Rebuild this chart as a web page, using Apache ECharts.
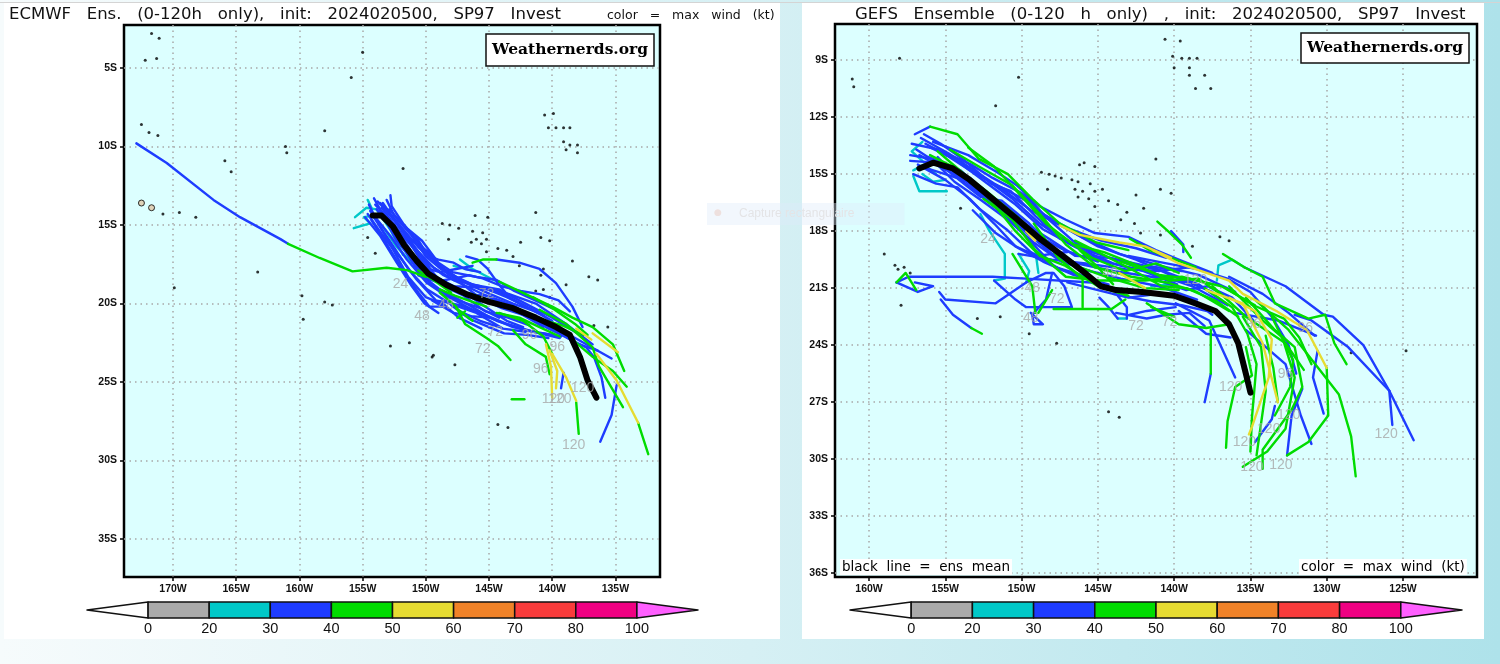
<!DOCTYPE html>
<html>
<head>
<meta charset="utf-8">
<script src="https://cdn.jsdelivr.net/npm/echarts@6/dist/echarts.min.js"></script>
<style>
  html, body { margin: 0; height: 100%; overflow: hidden; background: linear-gradient(90deg, #f6fbfc 0%, #d6f0f4 50%, #aee2ea 100%); }
  .panel { position: absolute; top: 3px; height: 636px; background: #fff; }
  #topline { position: absolute; left: 0; right: 0; top: 2px; height: 1px; background: #d4d4d4; }
  #chart { position: absolute; left: 0; top: 0; width: 1500px; height: 664px; }
</style>
</head>
<body>
<div class="panel" style="left:4px;width:776px"></div>
<div class="panel" style="left:802px;width:682px"></div>
<div id="topline"></div>
<div id="chart"></div>
<script>
const ecLonTicks = [-170, -165, -160, -155, -150, -145, -140, -135]
const ecLatTicks = [-5, -10, -15, -20, -25, -30, -35]
const gfLonTicks = [-160, -155, -150, -145, -140, -135, -130, -125]
const gfLatTicks = [-9, -12, -15, -18, -21, -24, -27, -30, -33, -36]
const barTicks = ['0', '20', '30', '40', '50', '60', '70', '80', '100']
const barColors = ['#ffffff', '#aaaaaa', '#00c8c8', '#1e3cff', '#00dc00', '#e6dc32', '#f08228', '#fa3c3c', '#f00082', '#ff5fff']

const ecMean = [[-154.2,-14.4],[-153.5,-14.4],[-152.6,-15.1],[-151.7,-16.3],[-150.7,-17.3],[-149.8,-18.1],[-148.4,-18.8],[-146.8,-19.4],[-145,-19.9],[-143.1,-20.3],[-141.3,-20.9],[-139.7,-21.5],[-138.6,-22],[-137.8,-23.4],[-137.2,-24.9],[-136.5,-26]]
const ecCyan = [
  [[-155.6,-14.5],[-154.7,-13.9],[-153.9,-14],[-152.8,-15.3],[-151.8,-16.9]],
  [[-155.7,-15.2],[-154.4,-14.9],[-154.9,-14.5],[-153.4,-14.3]],
  [[-154.6,-13.4],[-154.3,-13.9]],
  [[-147.3,-17.2],[-146.3,-17.8],[-144.4,-18.6]],
  [[-147.8,-17.6],[-146.3,-17.9]],
  [[-153.4,-15.1],[-152.3,-16.4],[-151.1,-17.4]]
]
const ecBlue = [
  [[-172.9,-9.8],[-170.5,-11.05],[-166.8,-13.4],[-164.7,-14.5],[-161.5,-15.9],[-160.9,-16.2]],
  [[-152.8,-13.1],[-152.7,-13.8],[-151.8,-14.9],[-150.5,-16.2],[-149.4,-17.2],[-148.4,-17.9],[-146.8,-18.7],[-144.9,-19.4],[-143.1,-20],[-141,-20.6]],
  [[-153.6,-13.6],[-152.3,-14.8],[-151.1,-16],[-149.8,-16.7],[-149,-17.6],[-147.6,-18.3],[-146,-18.9],[-143.9,-19.4],[-142.1,-20.2],[-140,-21.1]],
  [[-154.8,-14.5],[-153.6,-15.7],[-152.3,-17.4],[-151.1,-18.9],[-150.1,-20],[-149,-20.6]],
  [[-154.3,-14.7],[-153.1,-16.2],[-151.8,-17.9],[-150.5,-19.4],[-149.7,-20.2],[-148.8,-20.2]],
  [[-153.9,-14],[-152.6,-15.3],[-151.5,-16.8],[-150.5,-18.1],[-148.9,-19.1],[-146.8,-20],[-144.9,-20.9],[-143.1,-21.5],[-141,-21.9],[-139.4,-22.2]],
  [[-153.4,-13.6],[-152.1,-15.1],[-150.7,-16.6],[-149.4,-17.7],[-147.8,-18.5],[-145.7,-18.9],[-143.6,-19.6],[-141,-20.6],[-138.4,-22.1],[-135.3,-23.5]],
  [[-154.4,-14.1],[-152.8,-15.7],[-151.5,-17.2],[-149.9,-18.7],[-148.4,-19.5],[-146.3,-20.4],[-144.4,-21.1],[-142.1,-21.7],[-140,-22]],
  [[-154,-13.7],[-152.4,-15.1],[-150.9,-17],[-149.3,-18.3],[-147.3,-19.1],[-145.5,-20.1],[-143.6,-21.1],[-142.3,-21.5]],
  [[-153.1,-14],[-151.7,-15.6],[-150.5,-17.1],[-148.9,-18.5],[-147.1,-19.4],[-145.2,-19.5],[-143.1,-20.1],[-140.5,-21.5],[-137.3,-22.8],[-136.7,-23.4],[-136.1,-24.7],[-135.8,-26]],
  [[-150.2,-17.7],[-148.9,-18],[-147.6,-17.8],[-146.3,-17.6]],
  [[-144.4,-17.2],[-142.6,-17.4],[-141,-17.8],[-139.7,-18.7],[-138.4,-20.2],[-137.6,-21.5]],
  [[-146.8,-17],[-145.9,-17.2],[-145.1,-17.8],[-144.3,-18.7],[-143.4,-19.6],[-142.1,-20.2]],
  [[-153.4,-13.8],[-151.9,-15.3],[-150.5,-16.8],[-149.2,-18.3],[-147.8,-18.9],[-145.2,-19],[-143.4,-19.4],[-141.3,-20],[-138.9,-21.3],[-136.8,-22.6]],
  [[-154.6,-14.3],[-153.2,-15.9],[-151.9,-17.2],[-150.7,-18.5],[-149.2,-19.8],[-147.3,-20.1],[-145.7,-20.6],[-143.6,-21.3],[-141.5,-21.8]],
  [[-153.6,-14.1],[-152.3,-16],[-150.9,-17.4],[-149.7,-18.7],[-147.8,-19.7],[-145.7,-20.3],[-144.2,-20.9]],
  [[-139.3,-25.4],[-139.1,-24.4]],
  [[-136.2,-28.8],[-135.3,-27.1],[-134.9,-25.2]],
  [[-140.7,-21.9],[-139.3,-22.1]],
  [[-153.8,-13.5],[-152.2,-14.9],[-150.6,-16.4],[-149.6,-17.1],[-148.1,-18.2],[-146.3,-18.8],[-144.2,-19.1],[-142.6,-19.8],[-140,-20.9],[-137.6,-22.1]],
  [[-154.2,-14.4],[-152.7,-16.2],[-151.3,-17.9],[-149.9,-19.1],[-148.1,-20],[-146,-20.6],[-143.9,-21.6],[-142.1,-21.8]],
  [[-153.5,-13.9],[-151.8,-15.7],[-150.2,-17.2],[-148.6,-18.2],[-146.8,-18.9],[-144.7,-19.7],[-142.8,-20.5],[-140.7,-21.5]],
  [[-147.3,-20.5],[-145.7,-21.1],[-144.2,-21.5]],
  [[-154.1,-13.3],[-153.2,-14.6],[-152.2,-15.9],[-151,-17.2],[-149.6,-18.1],[-148.6,-18.9],[-147,-19.5],[-145.3,-20.5],[-143.5,-20.9],[-141.8,-21.4]],
  [[-153.1,-13.4],[-152.5,-14.4],[-151.2,-15.6],[-150,-17],[-148.8,-17.8],[-147.2,-18.7],[-145.8,-19.6],[-144,-20.3],[-142,-20.8],[-140.2,-21.6],[-138.8,-22.1]],
  [[-154.5,-13.7],[-153.7,-15],[-152.5,-16.7],[-151.4,-18.3],[-150,-19.6],[-148.5,-20.1],[-147.4,-20.9],[-145.6,-21.6]],
  [[-152.9,-14],[-151.5,-15.2],[-150.3,-16],[-149,-17.4],[-147.9,-18],[-146,-18.3],[-144.4,-18.5],[-143,-19.2],[-141.6,-19.7],[-140,-20.3]],
  [[-147.6,-19.1],[-146,-19.5],[-144.5,-19.9],[-143,-20.5],[-141.2,-21],[-139.5,-21.8],[-138.2,-22.5],[-136.4,-23]],
  [[-148,-20.1],[-146.5,-21],[-145,-21.5],[-143.8,-21.9],[-142,-22],[-140.3,-22.2]],
  [[-149.5,-19.8],[-147.8,-20.6],[-146.4,-20.8],[-145,-20.9]],
  [[-150.6,-18.2],[-149.2,-18.6],[-147.7,-18.4],[-146.6,-18.2],[-145.5,-18.4],[-144,-18.9],[-142.5,-19.2],[-141,-19.4],[-139.5,-19.8],[-138.6,-20.5]],
  [[-150.8,-15.7],[-149.8,-17],[-149,-17.2],[-147.8,-17.4],[-146.9,-17.8],[-145.7,-18]]
]
const ecGreen = [
  [[-160.9,-16.2],[-158.4,-17.1],[-155.8,-17.95],[-153.1,-17.72],[-151.5,-17.87],[-150,-18.3]],
  [[-148.9,-19.3],[-147.6,-20.2],[-146.9,-21.3],[-145.2,-22.2],[-144.3,-22.7],[-143.3,-23.6]],
  [[-143.1,-21.7],[-142.1,-22.6],[-140.5,-23.4],[-140.2,-24.5]],
  [[-146.3,-17.4],[-145.5,-17.2],[-144.4,-17.2]],
  [[-144.2,-18.6],[-142.1,-19.4],[-140,-20.2],[-138.4,-20.9],[-136.8,-21.5],[-135.2,-22.6],[-134.3,-24.3]],
  [[-141,-20.4],[-138.9,-21.3],[-136.8,-22.8],[-136.3,-24],[-134.4,-26.6]],
  [[-138.4,-22.3],[-136.8,-23.4],[-135.2,-24.3],[-134.1,-25.3]],
  [[-138.1,-26.3],[-137.9,-28.3]],
  [[-133.2,-27.6],[-132.4,-29.6]],
  [[-143.2,-26.1],[-142.2,-26.1]],
  [[-144.2,-20.6],[-142.3,-21.1],[-140.7,-22.1],[-140,-23.2]],
  [[-147.6,-20.3],[-146.3,-21.1]],
  [[-147.5,-20.9],[-146.9,-20.5]],
  [[-148.9,-19.1],[-147.7,-19.5],[-146.3,-19.9],[-145.2,-20.2]],
  [[-144.4,-20.6],[-142.6,-20.9],[-141,-21.5],[-139.4,-22.1]],
  [[-150.6,-17.9],[-149.4,-18.5],[-148,-19.3]],
  [[-146.4,-19.4],[-144.6,-19.9],[-142.8,-20.3],[-141,-21],[-139.2,-21.4],[-137.5,-22]],
  [[-141.5,-19.6],[-139.8,-20.4],[-138.2,-21.3],[-137.2,-22]]
]
const ecYellow = [
  [[-140.5,-22.6],[-140.1,-24],[-140,-26]],
  [[-140.2,-23],[-139.6,-24.3],[-139.7,-25.4]],
  [[-140,-23.2],[-138.9,-24.7],[-138.1,-26.2]],
  [[-138.1,-21.6],[-136.9,-22.3]],
  [[-136.8,-21.9],[-134.8,-23.1]],
  [[-136.5,-23.2],[-134.9,-24.9],[-133.2,-27.6]]
]
const ecHours = [[-152,-18.76,'24'],[-150.3,-20.8,'48'],[-148.4,-20.1,'48'],[-144.5,-21.8,'72'],[-145.5,-22.9,'72'],[-145.2,-19.4,'72'],[-139.6,-22.8,'96'],[-140.9,-24.2,'96'],[-141.8,-22,'96'],[-137.6,-25.4,'120'],[-139.9,-26.1,'120'],[-139.4,-26.1,'120'],[-138.3,-29,'120']]
const ecIslands = [[-146.1,-14.4],[-145.1,-14.5],[-148.7,-14.9],[-148.1,-15],[-147.4,-15.2],[-146.3,-15.4],[-145.5,-15.5],[-148.2,-15.9],[-146.4,-16.1],[-146,-15.9],[-145.2,-15.9],[-145.6,-16.2],[-145.2,-16.7],[-144.3,-16.5],[-143.6,-16.6],[-142.5,-16.1],[-140.9,-15.8],[-140.2,-16],[-141.3,-14.2],[-143.1,-17],[-142.6,-17.6],[-140.7,-17.8],[-140.9,-18.2],[-138.4,-17.3],[-137.1,-18.3],[-136.4,-18.5],[-138.9,-18.8],[-141.3,-19.2],[-140.7,-19.1],[-140.2,-19.6],[-136.7,-21.4],[-135.6,-21.5],[-152.8,-22.7],[-151.3,-22.5],[-149.5,-23.4],[-147.7,-23.9],[-144.3,-27.7],[-143.5,-27.9],[-154.6,-15.8],[-154,-16.8],[-140.6,-8],[-139.9,-7.9],[-140.3,-8.8],[-139.7,-8.8],[-139.1,-8.8],[-138.6,-8.8],[-139.1,-9.7],[-138.6,-9.9],[-138,-9.9],[-138.9,-10.2],[-138,-10.4],[-171.7,-2.8],[-171.1,-3.1],[-172.2,-4.5],[-171.3,-4.4],[-172.5,-8.6],[-171.9,-9.1],[-171.2,-9.3],[-155,-4],[-155.9,-5.6],[-158,-9],[-161.1,-10],[-161,-10.4],[-165.9,-10.9],[-165.4,-11.6],[-170.8,-14.3],[-169.5,-14.2],[-168.2,-14.5],[-169.9,-19],[-163.3,-18],[-159.7,-21],[-159.8,-19.5],[-158,-19.9],[-157.4,-20.1],[-151.8,-11.4],[-149.4,-23.3]]
const ecBigIslands = [[-172.5,-13.6],[-171.7,-13.9]]

const gfMean = [[-156.7,-14.7],[-155.8,-14.4],[-154.5,-14.7],[-153.4,-15.3],[-151.9,-16.3],[-150.4,-17.3],[-148.8,-18.4],[-147.3,-19.3],[-146,-20.1],[-144.8,-20.9],[-143.8,-21.1],[-142.1,-21.2],[-140,-21.4],[-138.6,-21.8],[-137.3,-22.2],[-136.4,-22.9],[-135.8,-23.9],[-135.3,-25.5],[-135,-26.5]]
const gfCyan = [
  [[-156.5,-13.3],[-157.2,-13.8],[-156.5,-14.3]],
  [[-157.1,-15.1],[-156.7,-15.9],[-154.9,-15.9]],
  [[-156.5,-15],[-155.8,-15.4],[-155,-15.3]],
  [[-157.1,-14.8],[-156.4,-14.5],[-155.6,-15]],
  [[-152.7,-17.1],[-152.1,-18],[-151.1,-19.2],[-151.1,-20.5],[-151.8,-20.6]],
  [[-149.7,-20.7],[-149.5,-20.1],[-150.2,-19.2]],
  [[-149.1,-19],[-148.9,-20.2]],
  [[-143.7,-22.6],[-143.1,-22.6]],
  [[-137.2,-20.6],[-137.1,-19.8],[-136.2,-19.5],[-135.4,-19.9]],
  [[-141.5,-20.9],[-140.2,-20.8],[-140,-20.7]]
]
const gfBlue = [
  [[-157,-12.9],[-156,-12.5]],
  [[-157.2,-13.4],[-155.5,-13.7],[-153.4,-14.8],[-151.4,-15.7],[-149.4,-16.9],[-147.2,-17.8],[-145,-18.8],[-142.5,-19.5],[-140,-20.4],[-137.5,-21.2]],
  [[-156.6,-13.1],[-154.8,-13.9],[-152.8,-15],[-150.6,-16.3],[-148.8,-17.6],[-146.8,-18.7],[-144.6,-19.6],[-142,-20.1],[-139.8,-20.8]],
  [[-157.3,-14.3],[-155.5,-14.4],[-153.6,-15.4],[-151.6,-16.7],[-149.8,-18],[-148,-19.2],[-146,-20],[-143.5,-20.5],[-141,-20.9],[-138.5,-21.6]],
  [[-157.1,-15],[-155.6,-15.5],[-154.2,-15.7],[-152.8,-16.8],[-151,-17.9],[-149.4,-19.1],[-147.5,-20],[-145.2,-20.6]],
  [[-156.3,-13.4],[-154.4,-14.2],[-152.4,-15.4],[-150.4,-16.6],[-148.6,-17.9],[-146.3,-18.9],[-144,-19.7],[-141.4,-20.2],[-138.8,-20.9],[-136.5,-21.9]],
  [[-156.7,-14],[-154.9,-14.8],[-153,-15.9],[-151.2,-17.1],[-149.7,-18.3],[-147.8,-19.9],[-145.7,-20.4]],
  [[-156,-13.6],[-153.9,-14.4],[-151.8,-15.5],[-149.9,-16.3],[-148.4,-17.2],[-146.1,-18.3],[-143.6,-19.2],[-141,-19.8],[-138.4,-20.3],[-136,-21.2]],
  [[-156.8,-14.5],[-155,-15.3],[-153.4,-16.3],[-151.8,-17.6],[-150.4,-18.8],[-149,-19.3],[-147,-19.1]],
  [[-156.1,-14.1],[-154,-14.8],[-152.2,-16.1],[-150.2,-17.6],[-148.3,-18.9],[-146.4,-19.7],[-144,-20.1],[-141.5,-20.4],[-139,-20.7]],
  [[-155.8,-13.3],[-153.5,-14],[-151.6,-14.9],[-150.3,-15.6],[-148.8,-16.7],[-147.1,-17.4],[-145.2,-18.1],[-143,-18.3],[-141.2,-19],[-139.7,-19.5],[-137.5,-20.2]],
  [[-149.8,-16],[-148.6,-17.1],[-146.8,-17.9],[-144.8,-18.5],[-142.5,-18.9],[-140.5,-19.4]],
  [[-150.2,-19.2],[-148,-19.5],[-145.8,-19.7],[-143.2,-20],[-141,-20.1],[-139,-19.9]],
  [[-144,-21.3],[-141.5,-21.7],[-139.5,-21.9],[-137.9,-22.2]],
  [[-142.9,-22.4],[-141.8,-22.2],[-139.9,-22]],
  [[-158.2,-20.7],[-157.4,-20.4],[-151.9,-20.4],[-149.7,-20.5],[-145.4,-20.7]],
  [[-158.2,-20.7],[-156.8,-21.2],[-155.8,-20.9],[-157,-20.7]],
  [[-155.4,-21.2],[-155,-21.6],[-151.7,-21.8],[-149.7,-20.7],[-148.4,-20.2],[-147.9,-20.2],[-147.2,-20.9],[-146.7,-22],[-149.7,-22],[-150.4,-21.6],[-151.8,-20.6]],
  [[-155.3,-21.6],[-154.5,-22.4],[-153.3,-23.1]],
  [[-149.4,-22.3],[-148.6,-22.9],[-149.2,-22.9],[-149.3,-22.4],[-148.4,-21.6],[-148,-20.2]],
  [[-144.9,-21.5],[-144.3,-22],[-143.7,-22.6]],
  [[-143.1,-22.6],[-143.1,-22],[-143.8,-21.3]],
  [[-135.4,-19.9],[-132.7,-20.9],[-130.2,-22.4],[-129.6,-22.5],[-127.6,-24],[-125.9,-26.4],[-124.3,-29]],
  [[-125.9,-26.4],[-125.7,-28.2]],
  [[-132.1,-22.4],[-131,-22.7],[-128.6,-24.1],[-125.9,-26.4]],
  [[-132.6,-29.8],[-132.3,-27.7],[-131.6,-26.3]],
  [[-137.6,-25.5],[-138,-27]],
  [[-139.9,-21.8],[-137.7,-22.7],[-136,-25.7]],
  [[-139.7,-22.2],[-137.9,-23.4],[-136.3,-23.6]],
  [[-135.3,-23.2],[-132.7,-25],[-131.7,-27.7],[-131,-29.2]],
  [[-136,-22.3],[-133.2,-22.7],[-130.7,-23.5]],
  [[-130.6,-24.3],[-130.9,-25.7],[-130.2,-27.6]],
  [[-133.4,-27.2],[-133.6,-27.9],[-134.7,-29.1]],
  [[-136.4,-20.4],[-134.2,-21.3],[-132.5,-22.3],[-130.8,-23.5]],
  [[-140.2,-18],[-139.4,-18.7],[-139.4,-19.1]],
  [[-157.3,-14],[-155.9,-14.2],[-154.4,-15.4],[-152.6,-16.4],[-150.9,-17.4],[-149.2,-18.6],[-147.4,-19.6],[-145.5,-20.1]],
  [[-156.4,-12.9],[-155.3,-13.4],[-153.7,-14.3],[-152,-15.5],[-150.7,-15.9],[-149.1,-17.2],[-147.5,-18.4],[-145.4,-19.1],[-143,-19.7],[-140.7,-20.1],[-138.4,-20.8],[-136.8,-21.7]],
  [[-156.9,-13.7],[-155.2,-14.6],[-153.8,-15],[-152,-16.2],[-150.8,-16.8],[-149,-18.2],[-147.2,-19],[-145,-19.6]],
  [[-156.2,-14.7],[-154.6,-15.1],[-153.2,-15.5],[-151.8,-16.6],[-150,-17.5],[-148.2,-18.4],[-146.5,-19.3],[-144.3,-19.4],[-142,-19.8],[-139.5,-20.1]],
  [[-155.2,-13.8],[-153.3,-14.5],[-151.9,-15.2],[-150,-16],[-148.2,-17.4],[-146.5,-18.6],[-144.9,-19.2]],
  [[-155.5,-14.1],[-154.1,-15.3],[-152.7,-16.2],[-151.3,-16.4],[-149.5,-17.6],[-147.9,-18.9]],
  [[-153.2,-16.9],[-151.7,-18.1],[-150.2,-18.9],[-148.6,-19.6],[-146.6,-20.3],[-144.3,-20.8]],
  [[-147,-20.7],[-145,-21.1],[-143,-21.5],[-141,-21.3],[-139,-21.5],[-137.5,-22.4]],
  [[-143.8,-22.3],[-141.8,-22.6],[-140.5,-22.4],[-139,-22.3],[-138,-23]],
  [[-143,-19.3],[-140.5,-19.7],[-138.5,-20],[-136.5,-20.5],[-135,-21.2],[-133.6,-22.5],[-132.5,-24],[-132,-25.5]],
  [[-141,-20.6],[-139.2,-21.1],[-137.8,-20.9],[-136.2,-21.5],[-134.8,-22.7]]
]
const gfGreen = [
  [[-156,-12.5],[-154.2,-12.9],[-152.8,-14.2],[-150.9,-15],[-149.3,-16.3],[-147.5,-17.6],[-145.1,-18.6],[-143,-19]],
  [[-154.7,-13.7],[-152.8,-14.6],[-150.6,-15.6],[-148.8,-17.1],[-147.1,-18.7],[-145.2,-19.9],[-142.8,-20.4],[-140.5,-20.7],[-138.5,-21.2],[-136.4,-22.2]],
  [[-152.5,-16.3],[-150.6,-17.4],[-149.1,-19],[-147.1,-20.4],[-144.9,-20.6],[-141.9,-20.6],[-139.5,-20.4],[-137.5,-20.8]],
  [[-147.3,-18.3],[-145.4,-19.4],[-143.2,-20.1],[-141.2,-19.7],[-139.7,-20.2]],
  [[-146.2,-19],[-145,-19.9],[-144,-20.8]],
  [[-156,-14],[-154.3,-14.7],[-152.3,-15.9],[-150.2,-17.3],[-148.4,-18.7],[-146.2,-19.9],[-144.5,-20.4],[-141.9,-21],[-139.7,-21.1]],
  [[-141.5,-22],[-140,-22.5]],
  [[-143.5,-19.6],[-141,-20.3],[-139,-20.5],[-136.9,-20.9],[-134.7,-21.9]],
  [[-158.2,-20.7],[-157.6,-20.2],[-156.9,-21.1]],
  [[-153.3,-23.1],[-152.6,-23.4]],
  [[-150.6,-19.2],[-149.3,-20.9],[-149.1,-22.3]],
  [[-148.9,-22.3],[-148,-21.1]],
  [[-147.9,-22.1],[-144.1,-22.1],[-143.2,-21.6]],
  [[-141.1,-17.5],[-140.4,-18],[-139.5,-18.7],[-138.9,-19.4]],
  [[-136.8,-19.2],[-135.4,-19.9],[-134.2,-20.4],[-133.4,-21.8],[-131.2,-22.6],[-130.1,-22.4],[-129.5,-23.9],[-128.7,-25]],
  [[-130,-25.2],[-129.9,-27.7],[-131.2,-29.1],[-132.6,-29.8]],
  [[-137.6,-23.2],[-137.6,-23.9],[-137.6,-25.5]],
  [[-135.3,-24.1],[-134.9,-25.6],[-136,-26.2],[-136.5,-28],[-136.6,-29.4]],
  [[-135.5,-22.5],[-134.3,-24.1],[-134,-26.4],[-134.6,-29.8]],
  [[-136.4,-20.9],[-134.2,-22.7],[-132.9,-23.6],[-132.1,-25.7],[-132.7,-28.4],[-133.9,-29.6],[-135.5,-30.4]],
  [[-135.3,-21.5],[-133.4,-23.2],[-132.1,-24.1],[-131.6,-26.2],[-132.3,-27.4],[-134.2,-29.5],[-134.2,-30.5]],
  [[-134.7,-21.6],[-132.5,-23.2],[-129.2,-26.6],[-128.4,-28.8],[-128.1,-30.9]],
  [[-137.5,-20.9],[-135.3,-22.5],[-132.7,-23.9],[-131.5,-25.3]],
  [[-141.8,-21.8],[-139.7,-22.9],[-137.9,-23.1],[-136.4,-22.9]],
  [[-142.9,-18.4],[-141.6,-19],[-138.6,-19.9]],
  [[-155.5,-13.8],[-153.9,-14.9],[-152,-16.4],[-150.4,-18],[-148.8,-19.3],[-147.2,-19.8],[-145,-20.9],[-143,-21.4]],
  [[-153.5,-13.6],[-151.8,-14.6],[-150.2,-16],[-148.4,-17.6],[-146.6,-18.7],[-144.6,-19.1],[-142.4,-19.8],[-140.3,-20.6],[-138.4,-20.5],[-136.8,-21.4]],
  [[-149.2,-17.6],[-147.6,-19.4],[-146,-20.5],[-146,-22]],
  [[-146.5,-18.5],[-144.5,-19.3],[-142.6,-20.1],[-140.8,-20.9],[-139.2,-21],[-137.2,-21.7],[-135.8,-22.5]],
  [[-134,-23.5],[-133.5,-25.2],[-133.2,-27]],
  [[-138,-21],[-136.2,-22],[-135.2,-23.4],[-134.6,-25],[-134.9,-27.8],[-135,-29.6]],
  [[-133.6,-22.5],[-132.2,-24.8],[-132.4,-26.2],[-133.4,-27.7]],
  [[-136.6,-21],[-134.8,-21.9],[-132.8,-22.6],[-131.8,-23.6],[-131,-25]]
]
const gfYellow = [
  [[-147.5,-17.7],[-146.2,-18.2],[-143.6,-18.6],[-141.9,-18.8],[-140.2,-19.4]],
  [[-149.7,-18],[-149.1,-18.5]],
  [[-143.6,-20.2],[-141.9,-21]],
  [[-141.4,-19],[-139.7,-19.7],[-136.4,-20.6],[-135.5,-21.3],[-133.3,-22.2],[-131.3,-23.2],[-130,-25.2]],
  [[-136.4,-21.5],[-134.7,-22.2],[-133.6,-23.7],[-133.8,-25.7],[-134.9,-28.3],[-135.1,-28.7]],
  [[-137.9,-21.1],[-135.5,-21.8],[-134.2,-23.9],[-133.2,-27]]
]
const gfHours = [[-152.2,-18.4,'24'],[-149.4,-22.6,'48'],[-149.3,-21,'48'],[-144.2,-20.2,'48'],[-142.5,-23,'72'],[-147.7,-21.6,'72'],[-140.3,-22.8,'72'],[-131.4,-23.1,'96'],[-132.7,-25.5,'96'],[-134.8,-22.9,'96'],[-136.3,-26.2,'120'],[-135.4,-29.1,'120'],[-133,-30.3,'120'],[-134.9,-30.4,'120'],[-126.1,-28.7,'120'],[-132.5,-27.7,'120'],[-133.8,-28.4,'120'],[-138.6,-20.6,'120']]
const gfIslands = [[-146.2,-14.5],[-145.9,-14.4],[-145.2,-14.6],[-148.7,-14.9],[-148.2,-15],[-147.8,-15.1],[-147.4,-15.2],[-146.7,-15.3],[-146.3,-15.4],[-148.3,-15.8],[-146.5,-15.8],[-146,-15.9],[-145.5,-15.5],[-145.2,-15.9],[-144.7,-15.8],[-146.3,-16.2],[-145.6,-16.3],[-145.2,-16.7],[-144.3,-16.4],[-143.7,-16.6],[-142.5,-16.1],[-140.9,-15.8],[-140.2,-16],[-141.2,-14.2],[-142,-16.8],[-154,-16.8],[-143.1,-17],[-143.5,-17.4],[-142.6,-17.6],[-142.2,-18.1],[-140.9,-18.2],[-145.5,-17.4],[-159,-19.2],[-158.3,-19.8],[-158.1,-20],[-157.7,-19.9],[-157.3,-20.2],[-157.9,-21.9],[-152.9,-22.6],[-151.4,-22.5],[-149.5,-23.4],[-147.7,-23.9],[-140.6,-7.9],[-139.6,-8],[-140.1,-8.8],[-139.5,-8.9],[-139,-8.9],[-138.5,-8.9],[-140,-9.4],[-139,-9.4],[-139,-9.8],[-138,-9.8],[-138.6,-10.5],[-137.6,-10.5],[-158,-8.9],[-150.2,-9.9],[-161.1,-10],[-161,-10.4],[-151.7,-11.4],[-144.3,-27.5],[-143.6,-27.8],[-128.4,-24.4],[-124.8,-24.3],[-137,-18.3],[-136.4,-18.5],[-138.8,-18.8]]

const trackLines = (tracks, color, axis, width = 2.4) => tracks.map((points) => ({
  type: 'line',
  xAxisIndex: axis,
  yAxisIndex: axis,
  data: points,
  symbol: 'none',
  silent: true,
  z: 3,
  lineStyle: { color: color, width: width, cap: 'round', join: 'round' }
}))

const dots = (points, axis, size, color) => ({
  type: 'scatter',
  xAxisIndex: axis,
  yAxisIndex: axis,
  data: points,
  symbolSize: size,
  silent: true,
  z: 2,
  itemStyle: { color: color, borderColor: '#000', borderWidth: size > 4 ? 1 : 0 }
})

const hourLabels = (points, axis) => ({
  type: 'scatter',
  xAxisIndex: axis,
  yAxisIndex: axis,
  data: points,
  symbolSize: 1,
  silent: true,
  z: 5,
  itemStyle: { color: 'transparent' },
  label: {
    show: true,
    position: 'inside',
    formatter: (p) => p.value[2],
    color: '#a8a8a8',
    fontSize: 14,
    fontFamily: 'Liberation Sans'
  }
})

const colorBar = (axis) => ({
  type: 'custom',
  xAxisIndex: axis,
  yAxisIndex: axis,
  data: barColors.map((c, i) => [i - 1, i]),
  silent: true,
  renderItem: (params, api) => {
    const i = params.dataIndex
    const a = api.coord([api.value(0), 0])
    const b = api.coord([api.value(1), 1])
    const mid = (a[1] + b[1]) / 2
    let points = [[a[0], a[1]], [b[0], a[1]], [b[0], b[1]], [a[0], b[1]]]
    if (i === 0) points = [[a[0], mid], [b[0], b[1]], [b[0], a[1]]]
    if (i === barColors.length - 1) points = [[a[0], a[1]], [a[0], b[1]], [b[0], mid]]
    return {
      type: 'polygon',
      shape: { points: points },
      style: { fill: barColors[i], stroke: '#111', lineWidth: 1.5, lineJoin: 'round' }
    }
  }
})

const mapAxisX = (grid, min, max, ticks) => ({
  type: 'value', gridIndex: grid, min: min, max: max,
  axisLine: { show: false, onZero: false },
  axisTick: { show: true, length: 4, customValues: ticks, lineStyle: { color: '#000', width: 1.5 } },
  axisLabel: { customValues: ticks, formatter: (v) => Math.abs(v) + 'W', color: '#111', fontSize: 10.5, fontWeight: 'bold', fontFamily: 'Liberation Sans', margin: 7 },
  splitLine: { show: true, lineStyle: { color: '#a8a8a8', width: 1.5, type: [1.5, 4] } }
})

const mapAxisY = (grid, min, max, ticks) => ({
  type: 'value', gridIndex: grid, min: min, max: max,
  axisLine: { show: false, onZero: false },
  axisTick: { show: true, length: 4, customValues: ticks, lineStyle: { color: '#000', width: 1.5 } },
  axisLabel: { customValues: ticks, formatter: (v) => Math.abs(v) + 'S', color: '#111', fontSize: 10.5, fontWeight: 'bold', fontFamily: 'Liberation Sans', margin: 7 },
  splitLine: { show: true, lineStyle: { color: '#a8a8a8', width: 1.5, type: [1.5, 4] } }
})

const barAxisX = (grid) => ({
  type: 'value', gridIndex: grid, min: -1, max: 9, interval: 1,
  axisLine: { show: false }, axisTick: { show: false }, splitLine: { show: false },
  axisLabel: { formatter: (v) => barTicks[v] || '', color: '#111', fontSize: 14.5, fontFamily: 'Liberation Sans', margin: 3, showMinLabel: true, showMaxLabel: true }
})

const barAxisY = (grid) => ({ type: 'value', gridIndex: grid, min: 0, max: 1, show: false })

const plainText = (text, left, top, size, color = '#111', family = 'DejaVu Sans') => ({
  text: text, left: left, top: top, padding: 0,
  textStyle: { fontSize: size, fontWeight: 'normal', color: color, fontFamily: family }
})

const boxText = (text, left, top, size, family, weight, border, pad) => ({
  text: text, left: left, top: top, padding: pad,
  backgroundColor: '#fff', borderColor: '#111', borderWidth: border,
  textStyle: { fontSize: size, fontWeight: weight, color: '#000', fontFamily: family }
})

const plotStyle = { show: true, backgroundColor: '#dcffff', borderColor: '#000', borderWidth: 2.5 }

const iChart = echarts.init(document.getElementById('chart'), null, { renderer: 'canvas' })
iChart.setOption({
  animation: false,
  backgroundColor: 'transparent',
  title: [
    plainText('ECMWF   Ens.   (0-120h   only),   init:   2024020500,   SP97   Invest', 9, 6, 16.5),
    plainText('color   =   max   wind   (kt)', 607, 9, 12.5),
    plainText('GEFS   Ensemble   (0-120   h   only)   ,   init:   2024020500,   SP97   Invest', 855, 6, 16.5),
    boxText('Weathernerds.org', 486, 34, 15.5, 'DejaVu Serif', 'bold', 1.5, [8, 6]),
    boxText('Weathernerds.org', 1301, 33, 15.5, 'DejaVu Serif', 'bold', 1.5, [7, 6]),
    boxText('black  line  =  ens  mean', 840, 559, 13.5, 'DejaVu Sans', 'normal', 0, [1, 2]),
    boxText('color  =  max  wind  (kt)', 1299, 559, 13.5, 'DejaVu Sans', 'normal', 0, [1, 2]),
    {
      text: 'Capture rectangulaire', left: 707, top: 203, padding: [5, 50, 5, 32],
      backgroundColor: 'rgba(222,236,250,0.4)',
      textStyle: { fontSize: 12, fontWeight: 'normal', color: '#e4e4e6', fontFamily: 'Liberation Sans' }
    },
    plainText('●', 714, 208, 9, '#eee0de')
  ],
  grid: [
    { left: 124, top: 25, width: 536, height: 552, ...plotStyle },
    { left: 835, top: 24, width: 642, height: 553, ...plotStyle },
    { left: 87, top: 602, width: 611, height: 16 },
    { left: 850, top: 602, width: 612, height: 16 }
  ],
  xAxis: [
    mapAxisX(0, -173.88, -131.47, ecLonTicks),
    mapAxisX(1, -162.23, -120.15, gfLonTicks),
    barAxisX(2),
    barAxisX(3)
  ],
  yAxis: [
    mapAxisY(0, -37.42, -2.26, ecLatTicks),
    mapAxisY(1, -36.2, -7.1, gfLatTicks),
    barAxisY(2),
    barAxisY(3)
  ],
  series: [
    dots(ecIslands, 0, 3, '#000'),
    dots(ecBigIslands, 0, 6, '#e0c8a8'),
    ...trackLines(ecCyan, barColors[2], 0),
    ...trackLines(ecBlue, barColors[3], 0),
    ...trackLines(ecGreen, barColors[4], 0),
    ...trackLines(ecYellow, barColors[5], 0),
    ...trackLines([ecMean], '#000', 0, 6),
    hourLabels(ecHours, 0),
    dots(gfIslands, 1, 3, '#000'),
    ...trackLines(gfCyan, barColors[2], 1),
    ...trackLines(gfBlue, barColors[3], 1),
    ...trackLines(gfGreen, barColors[4], 1),
    ...trackLines(gfYellow, barColors[5], 1),
    ...trackLines([gfMean], '#000', 1, 6),
    hourLabels(gfHours, 1),
    colorBar(2),
    colorBar(3)
  ]
})
</script>
</body>
</html>
